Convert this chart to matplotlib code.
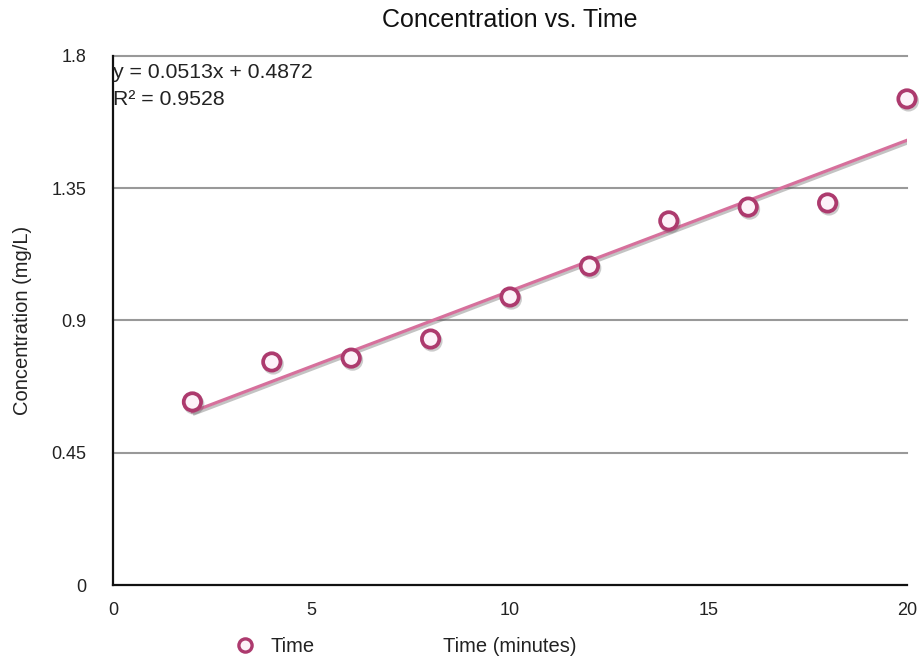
import matplotlib
matplotlib.use("Agg")
import matplotlib.pyplot as plt
import matplotlib.patheffects as pe
from matplotlib.lines import Line2D

plt.rcParams['font.family'] = ['Liberation Sans', 'DejaVu Sans']

time_min = [2, 4, 6, 8, 10, 12, 14, 16, 18, 20]
concentration = [0.623, 0.759, 0.772, 0.837, 0.980, 1.085, 1.239, 1.286, 1.300, 1.654]
slope = 0.0513
intercept = 0.4872
r2 = 0.9528
y_ticks = [0, 0.45, 0.9, 1.35, 1.8]
y_tick_labels = ['0', '0.45', '0.9', '1.35', '1.8']
x_ticks = [0, 5, 10, 15, 20]

fig = plt.figure(figsize=(9.21, 6.59), dpi=100)
ax = fig.add_axes([113/921, 1 - 585/659, (907-113)/921, (585-56)/659])

ax.set_xlim(0, 20)
ax.set_ylim(0, 1.8)

ax.set_yticks(y_ticks)
ax.set_yticklabels(y_tick_labels)
ax.set_xticks(x_ticks)
ax.tick_params(length=0, labelsize=13, colors='#222222')
ax.tick_params(axis='y', pad=19)
ax.tick_params(axis='x', pad=12)

for yv in y_ticks[1:]:
    ax.axhline(yv, color='#999999', lw=1.5, zorder=1, clip_on=False)

for s in ['top', 'right']:
    ax.spines[s].set_visible(False)
for s in ['left', 'bottom']:
    ax.spines[s].set_color('#111111')
    ax.spines[s].set_linewidth(1.6)

# trendline
tx = [time_min[0], time_min[-1]]
ty = [slope * x + intercept for x in tx]
ax.plot(tx, ty, color='#d6709c', lw=2.3, zorder=3,
        path_effects=[pe.SimpleLineShadow(offset=(1.5, -1.5), shadow_color='#555555', alpha=0.35),
                      pe.Normal()])

# data points
ax.plot(time_min, concentration, linestyle='none', marker='o', ms=12.5,
        mfc='#fdf2f9', mec='#ad3a6e', mew=2.7, zorder=4, clip_on=False,
        path_effects=[pe.SimpleLineShadow(offset=(1, -1.5), shadow_color='#555555', alpha=0.3),
                      pe.Normal()])

ax.text(0.0, 1.775, 'y = 0.0513x + 0.4872\nR² = 0.9528', fontsize=15.3,
        va='top', ha='left', color='#222222', linespacing=1.5)

ax.set_title('Concentration vs. Time', fontsize=18, pad=21, color='#111111')
ax.set_ylabel('Concentration (mg/L)', fontsize=14.5, color='#222222', labelpad=14)
fig.text(510/921, 1 - 652/659, 'Time (minutes)', fontsize=14.5, ha='center', va='baseline', color='#222222')

fig.text(270/921, 1 - 652/659, 'Time', fontsize=14.5, ha='left', va='baseline', color='#222222')
fig.add_artist(Line2D([245/921], [1 - 645/659], transform=fig.transFigure, linestyle='none',
                      marker='o', ms=9.5, mfc='#fdf2f9', mec='#ad3a6e', mew=2.4))

fig.savefig('out.png', dpi=100)
